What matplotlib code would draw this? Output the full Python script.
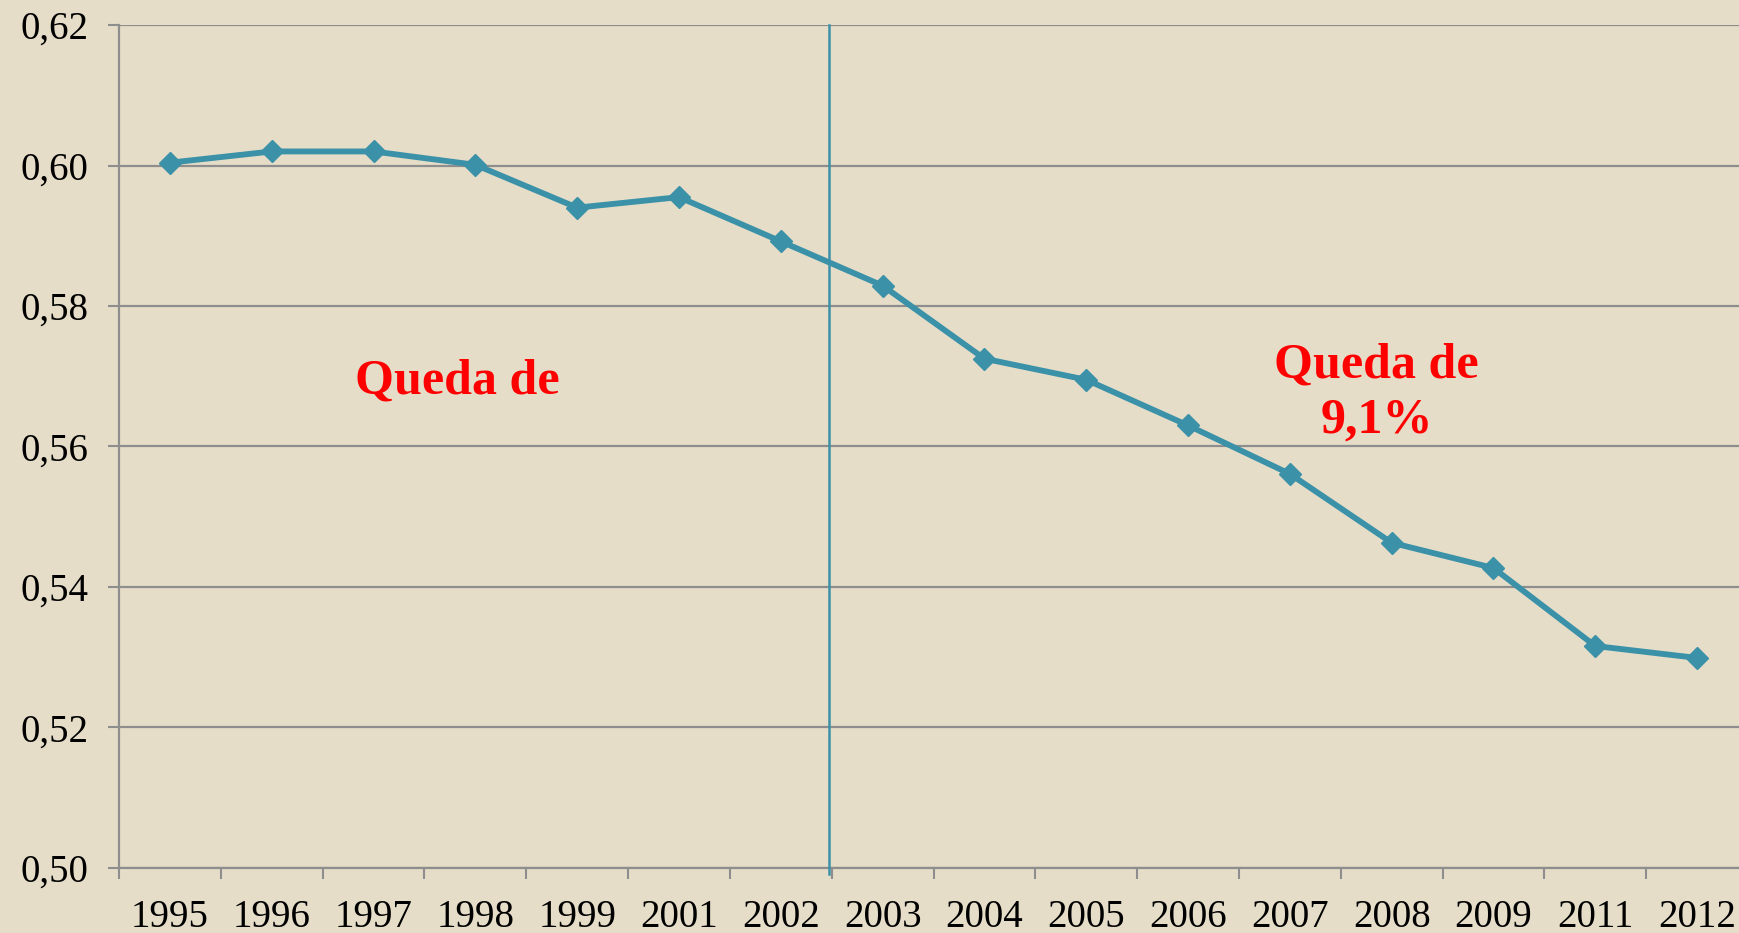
import numpy as np
import matplotlib
matplotlib.use("Agg")
import matplotlib.pyplot as plt

# data
anos = ["1995", "1996", "1997", "1998", "1999", "2001", "2002", "2003",
        "2004", "2005", "2006", "2007", "2008", "2009", "2011", "2012"]
gini = [0.6004, 0.6020, 0.6020, 0.6001, 0.5940, 0.5955, 0.5892, 0.5829,
        0.5725, 0.5695, 0.5630, 0.5561, 0.5463, 0.5427, 0.5316, 0.5299]
yticks = [0.50, 0.52, 0.54, 0.56, 0.58, 0.60, 0.62]
ylabels = ["0,50", "0,52", "0,54", "0,56", "0,58", "0,60", "0,62"]
corte = 6.47  # split between 2002 and 2003

bg = "#E5DDC8"
teal = "#3A91A8"
grid = "#8E8E8E"

plt.rcParams['font.family'] = ['Liberation Serif', 'DejaVu Serif']

fig = plt.figure(figsize=(17.4, 9.33), dpi=100)
fig.patch.set_facecolor(bg)
# axes runs a little past the right edge, like the original slide
ax = fig.add_axes([119/1740, 65/933, 1629/1740, 843/933])
ax.set_facecolor(bg)

x = np.arange(len(anos))
ax.plot(x, gini, color=teal, lw=4.2, marker='D', ms=11, zorder=4)

ax.plot([corte, corte], [0.4992, 0.62], color=teal, lw=1.8, zorder=3, clip_on=False)

ax.set_xlim(-0.5, len(anos) - 0.5)
ax.set_ylim(0.50, 0.62)

ax.set_yticks(yticks)
ax.set_yticklabels(ylabels, fontsize=28)
ax.yaxis.grid(True, color=grid, lw=1.6)
ax.set_axisbelow(True)

ax.set_xticks(x)
ax.set_xticklabels(anos, fontsize=28)
ax.set_xticks(np.arange(-0.5, len(anos)), minor=True)
ax.tick_params(axis='x', which='major', length=0, pad=22)
ax.tick_params(axis='x', which='minor', length=8, width=1.5, color=grid)
ax.tick_params(axis='y', length=8, width=1.5, color=grid, pad=14)

for s in ['top', 'right']:
    ax.spines[s].set_visible(False)
for s in ['left', 'bottom']:
    ax.spines[s].set_color(grid)
    ax.spines[s].set_linewidth(1.6)

ax.text(2.82, 0.5693, "Queda de", color="red", fontsize=36, fontweight='bold',
        ha='center', va='center')
ax.text(11.85, 0.5676, "Queda de\n9,1%", color="red", fontsize=36, fontweight='bold',
        ha='center', va='center', linespacing=1.25)

fig.savefig("out.png", dpi=100, facecolor=bg)
